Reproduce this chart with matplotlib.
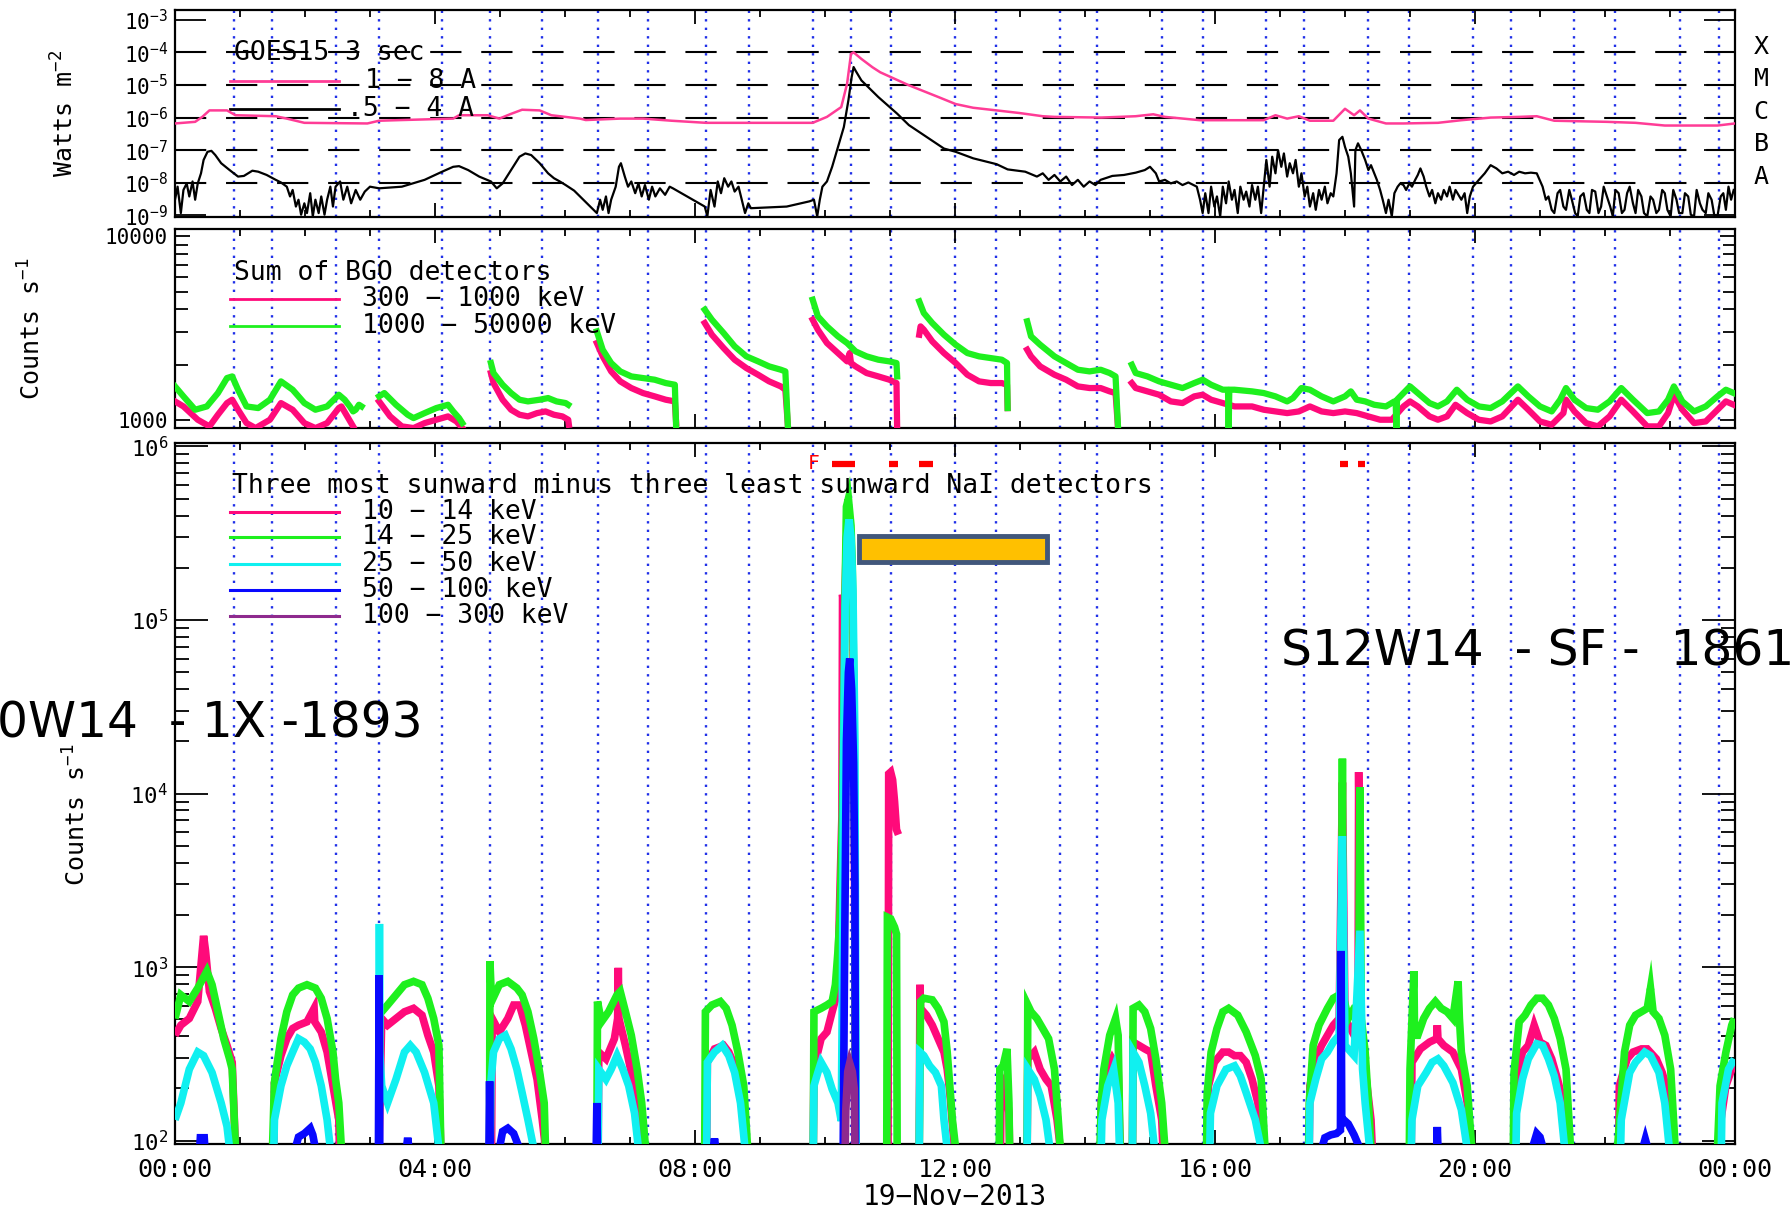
import numpy as np
import matplotlib.pyplot as plt
from matplotlib.patches import Rectangle
from matplotlib.ticker import FixedLocator, FixedFormatter, NullFormatter, NullLocator, LogLocator

nan = np.nan

# ---------------- GOES 15 (time in hours UT) ----------------
goes_long_t = [0.00, 0.31, 0.42, 0.53, 0.80, 0.93, 1.55, 1.72, 1.99, 2.96, 3.14, 3.49, 4.28, 4.37, 4.81,
               4.99, 5.17, 5.34, 5.61, 5.79, 6.23, 6.32, 6.85, 7.20, 7.64, 8.17, 8.79, 9.81, 10.03, 10.25,
               10.34, 10.40, 10.44, 10.56, 10.73, 10.85, 11.29, 11.74, 12.01, 12.28, 12.64, 12.99, 13.35,
               13.53, 14.25, 14.78, 15.05, 15.23, 15.77, 16.75, 16.93, 17.11, 17.29, 17.46, 17.82, 18.00,
               18.14, 18.23, 18.36, 18.63, 18.90, 19.43, 19.79, 20.24, 20.68, 20.95, 21.22, 22.03, 22.47,
               22.92, 23.73, 24.00]
goes_long_flux = [6.6e-7, 7.4e-7, 1.05e-6, 1.66e-6, 1.66e-6, 1.18e-6, 1.1e-6, 9.3e-7, 6.9e-7, 6.6e-7,
                  8.0e-7, 8.4e-7, 9.3e-7, 1.18e-6, 1.18e-6, 9.3e-7, 1.3e-6, 1.74e-6, 1.66e-6, 1.18e-6,
                  9.3e-7, 8.4e-7, 9.3e-7, 9.3e-7, 8.0e-7, 6.9e-7, 6.9e-7, 6.9e-7, 1.05e-6, 2.1e-6,
                  1.1e-5, 9.0e-5, 1.0e-4, 6.3e-5, 3.5e-5, 2.45e-5, 9.8e-6, 4.3e-6, 2.6e-6, 2.0e-6,
                  1.66e-6, 1.38e-6, 1.1e-6, 1.05e-6, 1.0e-6, 1.1e-6, 1.26e-6, 1.05e-6, 8.3e-7, 8.3e-7,
                  1.18e-6, 9.3e-7, 1.1e-6, 8.0e-7, 8.0e-7, 1.86e-6, 1.18e-6, 1.66e-6, 9.3e-7, 6.6e-7,
                  6.6e-7, 6.9e-7, 8.3e-7, 1.0e-6, 1.05e-6, 1.1e-6, 8.0e-7, 7.4e-7, 6.9e-7, 5.7e-7,
                  5.7e-7, 6.6e-7]

# 0.5 - 4 A channel: (hour, log10 flux)
goes_short = [
    (0.00, -8.52), (0.04, -8.12), (0.09, -8.93), (0.13, -8.22), (0.18, -8.02), (0.22, -8.42), (0.27, -7.96),
    (0.31, -8.52), (0.35, -8.02), (0.40, -7.71), (0.44, -7.30), (0.50, -7.05), (0.56, -7.02), (0.62, -7.15),
    (0.71, -7.40), (0.84, -7.61), (0.97, -7.81), (1.06, -7.79), (1.19, -7.63), (1.28, -7.66), (1.41, -7.76),
    (1.55, -7.91), (1.63, -7.99), (1.72, -8.12), (1.77, -8.42), (1.81, -8.22), (1.86, -8.73), (1.90, -8.52),
    (1.94, -8.98), (1.99, -8.63), (2.03, -8.93), (2.08, -8.32), (2.12, -9.03), (2.16, -8.52), (2.21, -8.93),
    (2.25, -8.42), (2.30, -8.98), (2.34, -8.52), (2.39, -8.12), (2.43, -8.73), (2.47, -8.12), (2.54, -7.96),
    (2.59, -8.52), (2.65, -8.12), (2.71, -8.63), (2.78, -8.22), (2.85, -8.52), (2.92, -8.27), (3.00, -8.12),
    (3.14, -8.17), (3.49, -8.12), (3.84, -7.91), (4.11, -7.66), (4.28, -7.51), (4.37, -7.49), (4.51, -7.61),
    (4.68, -7.81), (4.86, -7.96), (4.95, -8.17), (5.04, -8.02), (5.17, -7.61), (5.30, -7.20), (5.39, -7.10),
    (5.48, -7.15), (5.61, -7.40), (5.74, -7.71), (5.83, -7.86), (5.92, -7.96), (6.01, -8.07), (6.14, -8.24),
    (6.49, -8.93), (6.54, -8.52), (6.58, -8.83), (6.63, -8.42), (6.67, -8.93), (6.71, -8.52), (6.78, -8.12),
    (6.83, -7.51), (6.86, -7.40), (6.92, -7.81), (6.97, -8.12), (7.02, -7.96), (7.08, -8.32), (7.13, -8.02),
    (7.18, -8.42), (7.23, -8.07), (7.29, -8.52), (7.34, -8.12), (7.39, -8.42), (7.46, -8.17), (7.54, -8.37),
    (7.61, -8.12), (7.66, -8.17), (8.15, -8.73), (8.19, -9.03), (8.24, -8.22), (8.30, -8.73), (8.35, -7.96),
    (8.40, -8.32), (8.45, -7.86), (8.51, -8.12), (8.56, -7.96), (8.61, -8.27), (8.67, -8.12), (8.72, -8.52),
    (8.77, -8.93), (8.82, -8.63), (8.86, -8.78), (9.41, -8.73), (9.76, -8.57), (9.83, -8.52), (9.88, -9.03),
    (9.92, -8.52), (9.96, -8.12), (10.03, -7.96), (10.11, -7.51), (10.20, -6.90), (10.29, -6.29), (10.36, -5.47),
    (10.41, -4.76), (10.44, -4.45), (10.47, -4.56), (10.56, -4.86), (10.82, -5.37), (11.11, -5.88), (11.29, -6.23),
    (11.56, -6.59), (11.83, -6.95), (12.01, -7.05), (12.28, -7.25), (12.64, -7.43), (12.81, -7.59), (13.08, -7.66),
    (13.26, -7.81), (13.35, -7.71), (13.44, -7.91), (13.53, -7.76), (13.62, -7.96), (13.71, -7.81), (13.80, -8.07),
    (13.89, -7.91), (13.98, -8.12), (14.07, -7.96), (14.16, -8.07), (14.24, -7.91), (14.42, -7.79), (14.60, -7.76),
    (14.78, -7.69), (14.92, -7.61), (15.00, -7.51), (15.09, -7.71), (15.14, -7.96), (15.23, -7.91), (15.32, -8.02),
    (15.41, -7.96), (15.50, -8.07), (15.59, -7.99), (15.72, -8.12), (15.77, -8.52), (15.81, -8.93), (15.85, -8.32),
    (15.90, -8.93), (15.94, -8.12), (15.99, -8.73), (16.03, -8.42), (16.08, -9.03), (16.12, -8.12), (16.17, -8.63),
    (16.21, -7.96), (16.26, -8.52), (16.30, -8.22), (16.35, -8.93), (16.39, -8.12), (16.44, -8.52), (16.48, -8.27),
    (16.53, -8.73), (16.57, -8.07), (16.62, -8.52), (16.66, -8.12), (16.71, -8.93), (16.75, -8.12), (16.79, -7.30),
    (16.84, -8.12), (16.88, -7.20), (16.93, -7.71), (16.97, -7.00), (17.02, -7.51), (17.06, -7.10), (17.11, -7.81),
    (17.15, -7.40), (17.20, -7.71), (17.24, -7.30), (17.29, -8.12), (17.33, -7.71), (17.38, -8.42), (17.42, -8.12),
    (17.46, -8.73), (17.51, -8.32), (17.55, -8.83), (17.60, -8.22), (17.64, -8.52), (17.69, -8.12), (17.73, -8.63),
    (17.78, -8.32), (17.82, -8.42), (17.87, -7.71), (17.91, -6.69), (17.96, -6.59), (18.00, -6.90), (18.05, -7.20),
    (18.09, -7.71), (18.14, -8.73), (18.16, -7.00), (18.20, -6.79), (18.25, -7.00), (18.31, -7.30), (18.36, -7.61),
    (18.40, -7.46), (18.45, -7.71), (18.49, -7.91), (18.54, -8.22), (18.58, -8.52), (18.63, -8.93), (18.67, -8.52),
    (18.72, -9.03), (18.76, -8.32), (18.81, -8.12), (18.85, -8.02), (18.90, -8.07), (18.94, -8.22), (18.99, -8.02),
    (19.03, -8.12), (19.08, -7.91), (19.12, -7.76), (19.16, -7.56), (19.21, -7.81), (19.25, -8.12), (19.30, -8.42),
    (19.34, -8.22), (19.39, -8.63), (19.43, -8.32), (19.48, -8.52), (19.52, -8.22), (19.57, -8.42), (19.61, -8.12),
    (19.66, -8.52), (19.70, -8.22), (19.79, -8.52), (19.84, -8.32), (19.88, -8.93), (19.92, -8.42), (19.97, -8.12),
    (20.06, -7.91), (20.15, -7.71), (20.24, -7.46), (20.33, -7.56), (20.42, -7.71), (20.51, -7.66), (20.60, -7.76),
    (20.68, -7.66), (20.77, -7.71), (20.86, -7.69), (20.95, -7.71), (21.04, -8.12), (21.09, -8.52), (21.13, -8.42),
    (21.18, -8.83), (21.22, -8.93), (21.27, -8.32), (21.31, -8.22), (21.36, -8.73), (21.40, -8.83), (21.45, -8.22),
    (21.49, -8.52), (21.54, -8.93), (21.58, -9.03), (21.62, -8.42), (21.67, -8.32), (21.72, -8.83), (21.76, -8.93),
    (21.80, -8.22), (21.85, -8.27), (21.90, -8.93), (21.94, -8.73), (21.98, -8.12), (22.03, -8.42), (22.08, -8.73),
    (22.12, -9.03), (22.16, -8.22), (22.21, -8.32), (22.26, -8.93), (22.30, -8.83), (22.34, -8.32), (22.38, -8.12),
    (22.43, -8.63), (22.47, -8.93), (22.51, -8.22), (22.56, -8.42), (22.60, -8.93), (22.65, -9.03), (22.70, -8.42),
    (22.74, -8.52), (22.79, -8.93), (22.83, -8.83), (22.88, -8.22), (22.92, -8.32), (22.96, -8.83), (23.01, -9.03),
    (23.05, -8.22), (23.10, -8.52), (23.14, -8.93), (23.19, -8.93), (23.23, -8.32), (23.28, -8.42), (23.32, -8.98),
    (23.37, -9.03), (23.41, -8.22), (23.46, -8.63), (23.50, -8.83), (23.55, -8.93), (23.59, -8.32), (23.64, -8.52),
    (23.68, -8.98), (23.73, -9.03), (23.78, -8.42), (23.82, -8.32), (23.86, -8.83), (23.90, -8.12), (23.94, -8.52),
    (23.98, -8.22)]

goes_classes = ['A', 'B', 'C', 'M', 'X']
goes_levels = [1e-8, 1e-7, 1e-6, 1e-5, 1e-4]

# day/night orbit markers (hours)
orbit_t = [0.90, 1.49, 2.48, 3.14, 4.10, 4.85, 5.65, 6.50, 7.27, 8.17, 8.83, 9.82, 10.40, 11.02, 12.00,
           12.63, 13.61, 14.19, 15.18, 15.82, 16.79, 17.37, 18.36, 18.98, 19.97, 20.55, 21.53, 22.16,
           23.15, 23.75]

# ---------------- BGO sums (segments of (hour, counts/s)) ----------------
bgo_300 = [
    [(0.00, 1259), (0.13, 1182), (0.35, 1000), (0.53, 920), (0.66, 1065), (0.80, 1233), (0.88, 1286), (0.97, 1134),
     (1.10, 959), (1.24, 901), (1.46, 1000), (1.63, 1233), (1.81, 1134), (1.99, 959), (2.16, 901), (2.34, 959),
     (2.52, 1158), (2.56, 1182), (2.65, 1043), (2.74, 920)],
    [(3.14, 1259), (3.31, 1043), (3.49, 920), (3.67, 901), (3.84, 959), (4.11, 1021), (4.20, 1043), (4.33, 979),
     (4.42, 901)],
    [(4.86, 1797), (4.90, 1585), (5.04, 1286), (5.17, 1134), (5.30, 1065), (5.43, 1043), (5.57, 1087), (5.70, 1110),
     (5.83, 1065), (5.96, 1043), (6.05, 1000), (6.06, 939)],
    [(6.49, 2619), (6.58, 2216), (6.71, 1835), (6.85, 1619), (7.02, 1489), (7.20, 1398), (7.38, 1341), (7.55, 1286),
     (7.69, 1259), (7.71, 959)],
    [(8.15, 3368), (8.26, 2908), (8.44, 2460), (8.61, 2125), (8.79, 1913), (8.97, 1760), (9.14, 1619), (9.32, 1520),
     (9.39, 1458), (9.43, 920)],
    [(9.81, 3511), (9.89, 3097), (10.03, 2619), (10.20, 2310), (10.34, 2081), (10.38, 2310), (10.40, 2038),
     (10.47, 1954), (10.64, 1797), (10.82, 1723), (10.99, 1653), (11.10, 1585), (11.11, 890)],
    [(11.45, 2908), (11.47, 3229), (11.52, 3097), (11.65, 2675), (11.83, 2310), (12.01, 2038), (12.19, 1760),
     (12.37, 1619), (12.55, 1585), (12.72, 1585), (12.80, 1552), (12.81, 1158)],
    [(13.11, 2409), (13.17, 2216), (13.31, 1954), (13.53, 1760), (13.71, 1653), (13.89, 1520), (14.07, 1489),
     (14.24, 1489), (14.38, 1428), (14.47, 1398), (14.51, 880)],
    [(14.72, 1585), (14.78, 1489), (14.96, 1428), (15.14, 1369), (15.32, 1259), (15.50, 1233), (15.68, 1341),
     (15.81, 1369), (15.94, 1286), (16.12, 1233), (16.30, 1182), (16.57, 1182), (16.75, 1134), (16.93, 1110),
     (17.11, 1087), (17.29, 1110), (17.46, 1182), (17.64, 1110), (17.82, 1087), (18.00, 1110), (18.18, 1087),
     (18.36, 1043), (18.54, 1000), (18.72, 1000), (18.90, 1182), (19.00, 1259), (19.12, 1182), (19.30, 1043),
     (19.43, 1000), (19.57, 1043), (19.70, 1207), (19.88, 1087), (20.06, 1000), (20.24, 979), (20.42, 1043),
     (20.66, 1286), (20.82, 1134), (21.00, 979), (21.18, 939), (21.36, 1087), (21.40, 1286), (21.53, 1110),
     (21.71, 959), (21.89, 920), (22.07, 1043), (22.25, 1286), (22.43, 1110), (22.65, 920), (22.83, 920),
     (22.97, 1087), (23.06, 1369), (23.19, 1134), (23.37, 959), (23.55, 979), (23.73, 1134), (23.86, 1259),
     (23.98, 1207)]]

bgo_1000 = [
    [(0.00, 1520), (0.13, 1341), (0.31, 1134), (0.49, 1182), (0.66, 1398), (0.80, 1688), (0.88, 1723), (0.97, 1458),
     (1.10, 1182), (1.28, 1158), (1.46, 1286), (1.63, 1619), (1.81, 1458), (1.99, 1233), (2.16, 1134), (2.34, 1182),
     (2.47, 1313), (2.52, 1369), (2.61, 1286), (2.69, 1182), (2.74, 1110), (2.78, 1134), (2.83, 1207), (2.87, 1182)],
    [(3.14, 1341), (3.22, 1398), (3.40, 1207), (3.58, 1065), (3.67, 1021), (3.84, 1087), (4.02, 1158), (4.20, 1207),
     (4.28, 1110), (4.37, 1021), (4.42, 959)],
    [(4.86, 2038), (4.90, 1797), (5.04, 1552), (5.17, 1398), (5.30, 1286), (5.43, 1259), (5.61, 1286), (5.74, 1313),
     (5.87, 1259), (6.01, 1233), (6.05, 1207)],
    [(6.49, 3032), (6.58, 2409), (6.71, 2038), (6.85, 1835), (7.02, 1723), (7.20, 1688), (7.38, 1653), (7.55, 1585),
     (7.69, 1552), (7.71, 901)],
    [(8.15, 3981), (8.26, 3511), (8.44, 2970), (8.61, 2512), (8.79, 2216), (8.97, 2081), (9.14, 1954), (9.32, 1874),
     (9.39, 1835), (9.43, 901)],
    [(9.81, 4513), (9.89, 3661), (10.03, 3229), (10.20, 2848), (10.34, 2619), (10.47, 2359), (10.64, 2216),
     (10.82, 2125), (10.99, 2081), (11.10, 2038), (11.11, 1723)],
    [(11.45, 4421), (11.52, 3818), (11.65, 3368), (11.83, 2908), (12.01, 2565), (12.19, 2310), (12.37, 2216),
     (12.55, 2170), (12.72, 2125), (12.80, 2038), (12.81, 1158)],
    [(13.11, 3439), (13.17, 2848), (13.31, 2565), (13.53, 2216), (13.71, 2038), (13.89, 1874), (14.07, 1835),
     (14.24, 1874), (14.38, 1797), (14.47, 1723), (14.51, 880)],
    [(14.72, 1995), (14.78, 1797), (14.96, 1723), (15.14, 1619), (15.32, 1552), (15.50, 1489), (15.68, 1585),
     (15.81, 1653), (15.94, 1552), (16.12, 1458), (16.20, 1458), (16.21, 880), (16.22, 1458), (16.30, 1458),
     (16.57, 1428), (16.75, 1398), (16.93, 1341), (17.11, 1259), (17.20, 1313), (17.33, 1489), (17.46, 1458),
     (17.64, 1341), (17.82, 1259), (18.00, 1341), (18.09, 1428), (18.18, 1286), (18.31, 1259), (18.45, 1207),
     (18.63, 1182), (18.76, 1259), (18.78, 1259), (18.79, 880), (18.80, 1286), (18.90, 1398), (19.00, 1520),
     (19.12, 1398), (19.30, 1233), (19.43, 1182), (19.57, 1259), (19.72, 1458), (19.88, 1286), (20.06, 1182),
     (20.24, 1158), (20.42, 1259), (20.66, 1520), (20.82, 1341), (21.00, 1182), (21.18, 1110), (21.31, 1286),
     (21.40, 1489), (21.53, 1286), (21.71, 1158), (21.89, 1134), (22.07, 1259), (22.25, 1489), (22.43, 1286),
     (22.65, 1087), (22.83, 1110), (22.97, 1286), (23.06, 1520), (23.19, 1259), (23.37, 1110), (23.55, 1182),
     (23.73, 1341), (23.86, 1458), (23.98, 1398)]]

# ---------------- NaI sunward-minus-anti-sunward (hour, counts/s) ----------------
nai_10 = [
    [(0.00, 405), (0.09, 463), (0.22, 506), (0.35, 634), (0.42, 1240), (0.44, 1515), (0.47, 1240), (0.53, 724),
     (0.62, 579), (0.71, 443), (0.80, 354), (0.88, 283), (0.93, 90)],
    [(1.52, 90), (1.53, 216), (1.63, 309), (1.72, 387), (1.81, 443), (1.90, 463), (2.03, 484), (2.14, 579),
     (2.15, 484), (2.25, 423), (2.34, 324), (2.43, 207), (2.52, 132), (2.53, 90)],
    [(3.14, 90), (3.18, 506), (3.27, 463), (3.40, 506), (3.53, 553), (3.67, 579), (3.80, 529), (3.89, 405),
     (3.98, 324), (4.06, 207), (4.09, 90)],
    [(4.87, 90), (4.88, 506), (4.99, 423), (5.12, 506), (5.21, 605), (5.30, 605), (5.39, 463), (5.48, 324),
     (5.57, 226), (5.65, 132), (5.70, 90)],
    [(6.51, 90), (6.52, 324), (6.63, 296), (6.76, 387), (6.81, 506), (6.82, 991), (6.83, 506), (6.93, 354),
     (7.02, 247), (7.11, 165), (7.18, 90)],
    [(8.18, 90), (8.19, 283), (8.30, 338), (8.44, 354), (8.52, 324), (8.61, 270), (8.70, 189), (8.79, 90)],
    [(9.82, 90), (9.83, 283), (9.89, 324), (9.94, 387), (10.03, 423), (10.11, 553), (10.16, 648), (10.20, 948),
     (10.23, 2770), (10.26, 7400), (10.27, 1.4e5), (10.29, 1.2e5), (10.31, 1.5e5), (10.33, 3.0e5), (10.37, 3.7e5),
     (10.40, 3.0e5), (10.43, 1.0e5), (10.45, 1.0e4), (10.47, 90)],
    [(10.97, 90), (10.98, 1.3e4), (11.01, 1.33e4), (11.04, 1.2e4), (11.07, 9.0e3), (11.10, 6.2e3), (11.13, 5.8e3)],
    [(11.45, 90), (11.46, 792), (11.47, 579), (11.56, 529), (11.65, 463), (11.74, 387), (11.83, 324), (11.88, 258),
     (11.92, 189), (11.99, 90)],
    [(12.70, 90), (12.71, 207), (12.77, 226), (12.83, 144), (12.84, 90)],
    [(13.11, 90), (13.12, 296), (13.22, 324), (13.31, 258), (13.40, 226), (13.48, 207), (13.57, 132), (13.62, 90)],
    [(14.24, 90), (14.25, 173), (14.33, 247), (14.42, 296), (14.51, 258), (14.54, 90)],
    [(14.73, 90), (14.74, 370), (14.83, 354), (14.92, 338), (15.01, 324), (15.09, 207), (15.18, 132), (15.20, 90)],
    [(15.89, 90), (15.90, 207), (15.99, 283), (16.12, 324), (16.21, 324), (16.30, 309), (16.39, 309), (16.48, 283),
     (16.57, 226), (16.66, 165), (16.73, 90)],
    [(17.45, 90), (17.46, 207), (17.55, 296), (17.64, 354), (17.73, 405), (17.82, 463), (17.91, 506), (17.96, 1.16e4),
     (18.00, 506), (18.14, 405), (18.20, 405), (18.21, 1.33e4), (18.24, 405), (18.31, 258), (18.40, 132), (18.42, 90)],
    [(19.02, 90), (19.03, 283), (19.16, 338), (19.30, 370), (19.41, 387), (19.42, 463), (19.43, 387), (19.52, 354),
     (19.66, 324), (19.79, 258), (19.88, 165), (19.90, 90)],
    [(20.61, 90), (20.62, 207), (20.73, 324), (20.82, 354), (20.91, 463), (21.00, 370), (21.09, 354), (21.18, 296),
     (21.27, 226), (21.36, 165), (21.43, 90)],
    [(22.21, 90), (22.22, 207), (22.34, 296), (22.43, 324), (22.56, 338), (22.65, 338), (22.79, 296), (22.88, 247),
     (22.97, 189), (23.06, 90)],
    [(23.76, 90), (23.77, 121), (23.86, 207), (23.95, 258), (23.99, 283)]]

nai_14 = [
    [(0.00, 506), (0.09, 692), (0.22, 634), (0.35, 757), (0.49, 948), (0.57, 792), (0.66, 553), (0.75, 387),
     (0.84, 296), (0.88, 258), (0.93, 90)],
    [(1.50, 90), (1.53, 216), (1.55, 247), (1.63, 387), (1.72, 553), (1.81, 692), (1.90, 757), (2.03, 792),
     (2.16, 757), (2.25, 662), (2.34, 506), (2.43, 324), (2.47, 226), (2.52, 165), (2.56, 90)],
    [(3.14, 90), (3.15, 553), (3.18, 553), (3.27, 605), (3.40, 692), (3.53, 792), (3.67, 828), (3.80, 792),
     (3.89, 662), (3.98, 506), (4.06, 354), (4.09, 90)],
    [(4.84, 90), (4.845, 1083), (4.87, 634), (4.99, 792), (5.12, 828), (5.26, 757), (5.34, 692), (5.43, 553),
     (5.52, 387), (5.61, 247), (5.68, 165), (5.70, 90)],
    [(6.49, 90), (6.50, 634), (6.56, 484), (6.67, 553), (6.80, 692), (6.85, 724), (6.93, 553), (7.02, 405),
     (7.11, 258), (7.18, 165), (7.24, 90)],
    [(8.15, 90), (8.16, 553), (8.26, 605), (8.39, 634), (8.48, 579), (8.57, 463), (8.66, 324), (8.75, 207), (8.81, 90)],
    [(9.82, 90), (9.83, 553), (9.94, 579), (10.03, 605), (10.11, 634), (10.16, 792), (10.20, 1240), (10.23, 1940),
     (10.27, 8000), (10.29, 3.0e4), (10.31, 1.5e5), (10.33, 4.5e5), (10.36, 5.0e5), (10.38, 4.2e5), (10.40, 3.5e5),
     (10.42, 2.0e5), (10.44, 5.0e4), (10.46, 3000), (10.47, 90)],
    [(10.95, 90), (10.96, 1940), (11.01, 1900), (11.07, 1700), (11.10, 1550), (11.11, 90)],
    [(11.45, 90), (11.47, 634), (11.52, 662), (11.65, 648), (11.74, 579), (11.83, 484), (11.88, 324), (11.92, 207),
     (11.96, 132), (12.01, 90)],
    [(12.68, 90), (12.69, 258), (12.74, 270), (12.80, 338), (12.83, 165), (12.84, 90)],
    [(13.11, 90), (13.12, 605), (13.17, 553), (13.26, 506), (13.35, 443), (13.44, 387), (13.53, 258), (13.57, 165),
     (13.62, 90)],
    [(14.23, 90), (14.25, 165), (14.29, 258), (14.38, 405), (14.47, 506), (14.51, 405), (14.54, 90)],
    [(14.73, 90), (14.74, 579), (14.83, 605), (14.92, 553), (15.01, 443), (15.09, 296), (15.18, 165), (15.23, 90)],
    [(15.87, 90), (15.88, 189), (15.94, 324), (16.03, 443), (16.12, 553), (16.21, 579), (16.35, 529), (16.48, 423),
     (16.62, 309), (16.71, 226), (16.77, 90)],
    [(17.44, 90), (17.45, 165), (17.51, 354), (17.60, 463), (17.73, 579), (17.82, 662), (17.91, 692), (17.95, 692),
     (17.96, 1.59e4), (17.97, 692), (18.05, 506), (18.14, 579), (18.21, 579), (18.23, 1.09e4), (18.25, 506),
     (18.31, 324), (18.36, 165), (18.40, 90)],
    [(18.99, 90), (19.00, 258), (19.06, 948), (19.07, 405), (19.12, 405), (19.21, 506), (19.30, 579), (19.39, 634),
     (19.48, 579), (19.57, 553), (19.66, 506), (19.74, 828), (19.76, 506), (19.79, 324), (19.88, 207), (19.95, 90)],
    [(20.59, 90), (20.60, 247), (20.68, 484), (20.77, 529), (20.86, 605), (20.95, 662), (21.04, 662), (21.13, 605),
     (21.22, 506), (21.31, 387), (21.40, 258), (21.47, 90)],
    [(22.19, 90), (22.21, 110), (22.30, 324), (22.38, 463), (22.47, 529), (22.56, 553), (22.65, 579), (22.70, 757),
     (22.74, 553), (22.83, 506), (22.92, 405), (23.01, 258), (23.08, 90)],
    [(23.73, 90), (23.77, 207), (23.86, 324), (23.95, 463), (23.99, 506)]]

nai_25 = [
    [(0.00, 132), (0.09, 165), (0.22, 258), (0.35, 324), (0.44, 309), (0.57, 247), (0.71, 165), (0.80, 121), (0.84, 90)],
    [(1.52, 90), (1.53, 132), (1.63, 207), (1.72, 270), (1.81, 324), (1.90, 387), (1.99, 370), (2.08, 338),
     (2.16, 283), (2.25, 207), (2.34, 132), (2.39, 90)],
    [(3.14, 90), (3.145, 1774), (3.15, 324), (3.18, 207), (3.27, 165), (3.40, 226), (3.53, 324), (3.62, 354),
     (3.71, 324), (3.84, 247), (3.98, 165), (4.06, 90)],
    [(4.85, 90), (4.86, 216), (4.90, 324), (4.99, 387), (5.08, 405), (5.17, 338), (5.26, 258), (5.34, 189),
     (5.43, 132), (5.52, 90)],
    [(6.51, 90), (6.52, 258), (6.63, 226), (6.71, 258), (6.80, 309), (6.89, 258), (6.98, 207), (7.07, 144), (7.13, 90)],
    [(8.18, 90), (8.19, 283), (8.30, 324), (8.42, 354), (8.52, 309), (8.61, 247), (8.70, 165), (8.77, 90)],
    [(9.82, 90), (9.83, 207), (9.89, 247), (9.94, 283), (10.03, 247), (10.11, 198), (10.20, 165), (10.25, 130),
     (10.27, 1000), (10.29, 2.0e4), (10.31, 1.2e5), (10.34, 3.0e5), (10.37, 3.8e5), (10.40, 3.0e5), (10.43, 1.5e5),
     (10.46, 2.0e4), (10.48, 90)],
    [(11.45, 90), (11.46, 324), (11.52, 309), (11.61, 270), (11.70, 247), (11.79, 207), (11.83, 132), (11.88, 90)],
    [(13.11, 90), (13.12, 258), (13.22, 226), (13.31, 181), (13.40, 132), (13.46, 90)],
    [(14.25, 90), (14.26, 132), (14.35, 207), (14.44, 258), (14.51, 165), (14.53, 90)],
    [(14.73, 90), (14.74, 324), (14.83, 283), (14.92, 207), (15.01, 144), (15.07, 90)],
    [(15.92, 90), (15.93, 144), (16.03, 207), (16.17, 258), (16.30, 270), (16.39, 236), (16.48, 189), (16.62, 132),
     (16.71, 90)],
    [(17.45, 90), (17.46, 165), (17.55, 226), (17.64, 296), (17.73, 324), (17.82, 370), (17.91, 405), (17.96, 5690),
     (18.00, 354), (18.14, 309), (18.23, 1622), (18.27, 258), (18.31, 165), (18.38, 90)],
    [(19.02, 90), (19.03, 132), (19.12, 207), (19.25, 247), (19.34, 283), (19.43, 296), (19.52, 270), (19.66, 216),
     (19.79, 151), (19.88, 90)],
    [(20.63, 90), (20.64, 144), (20.73, 226), (20.82, 296), (20.95, 362), (21.04, 354), (21.13, 296), (21.22, 236),
     (21.31, 165), (21.38, 90)],
    [(22.24, 90), (22.25, 132), (22.38, 247), (22.47, 283), (22.61, 324), (22.70, 309), (22.83, 247), (22.92, 165),
     (22.99, 90)],
    [(23.79, 90), (23.80, 165), (23.90, 258), (23.99, 296)]]

nai_50 = [
    [(0.38, 90), (0.39, 104), (0.45, 104), (0.46, 90)],
    [(1.85, 90), (1.90, 105), (1.99, 110), (2.08, 118), (2.12, 108), (2.16, 90)],
    [(3.13, 90), (3.14, 900), (3.15, 90)],
    [(3.56, 90), (3.58, 104), (3.60, 90)],
    [(4.83, 90), (4.84, 220), (4.85, 90)],
    [(4.99, 90), (5.04, 113), (5.12, 118), (5.21, 110), (5.30, 90)],
    [(6.48, 90), (6.49, 165), (6.50, 90)],
    [(8.28, 90), (8.30, 103), (8.32, 90)],
    [(10.28, 90), (10.30, 1000), (10.33, 2.0e4), (10.36, 5.0e4), (10.38, 6.0e4), (10.41, 4.0e4), (10.44, 1.5e4),
     (10.46, 3000), (10.47, 90)],
    [(17.64, 90), (17.69, 104), (17.78, 108), (17.87, 110), (17.93, 115), (17.94, 1240), (17.95, 125), (18.00, 130),
     (18.05, 125), (18.14, 108), (18.23, 90)],
    [(19.41, 90), (19.42, 120), (19.43, 90)],
    [(20.88, 90), (20.95, 110), (21.00, 105), (21.05, 90)],
    [(22.58, 90), (22.62, 102), (22.66, 90)]]

nai_100 = [
    [(10.31, 90), (10.32, 150), (10.35, 250), (10.38, 280), (10.42, 250), (10.45, 200), (10.46, 90)]]

# data-quality flags shown along the top of the NaI panel (hours)
flag_start = [10.11, 10.98, 11.45, 17.93, 18.20]
flag_end = [10.46, 11.12, 11.66, 18.04, 18.31]


def join(segs):
    t, c = [], []
    for seg in segs:
        for a, b in seg:
            t.append(a)
            c.append(b)
        t.append(nan)
        c.append(nan)
    return np.array(t), np.array(c)


PINK = '#FF0A7A'
GPINK = '#FF3C96'
GREEN = '#1EF01E'
CYAN = '#10F0F0'
BLUE = '#0808FF'
PURPLE = '#8E2A8E'

plt.rcParams['font.family'] = ['DejaVu Sans Mono']
plt.rcParams['mathtext.default'] = 'regular'

fig = plt.figure(figsize=(17.92, 12.11), dpi=100)
W, H = 1792.0, 1211.0
FS = 19


def box(top, bottom):
    return [175 / W, 1 - bottom / H, 1560 / W, (bottom - top) / H]


def style(ax, lo, hi):
    ax.set_xlim(0, 24)
    ax.set_yscale('log')
    ax.set_ylim(lo, hi)
    ax.xaxis.set_major_locator(FixedLocator(range(0, 25, 4)))
    ax.xaxis.set_minor_locator(FixedLocator(range(0, 25)))
    ax.tick_params(which='both', direction='in', top=True, right=True, width=1.3, labelsize=15, pad=5)
    ax.tick_params(axis='x', which='major', length=10)
    ax.tick_params(axis='x', which='minor', length=5)
    for s in ax.spines.values():
        s.set_linewidth(1.6)
    for t in orbit_t:
        ax.axvline(t, color='#2030E8', ls=(0, (1, 2.6)), lw=1.7, zorder=0)


ax1 = fig.add_axes(box(10, 217))
ax2 = fig.add_axes(box(229, 428))
ax3 = fig.add_axes(box(443, 1144))

# ---------- GOES panel ----------
style(ax1, 10 ** -9.05, 10 ** -2.70)
ax1.yaxis.set_major_locator(FixedLocator([1e-9, 1e-8, 1e-7, 1e-6, 1e-5, 1e-4, 1e-3]))
ax1.yaxis.set_minor_locator(NullLocator())
ax1.tick_params(axis='y', which='major', length=22)
ax1.tick_params(axis='x', labelbottom=False)
for lev in goes_levels:
    ax1.axhline(lev, color='black', ls=(0, (15, 9.5)), lw=1.5, zorder=1)
for cl, lev in zip(goes_classes, goes_levels):
    ax1.text(1.012, lev * 1.5, cl, transform=ax1.get_yaxis_transform(), fontsize=18, va='center', ha='left')
gs_t = [p[0] for p in goes_short]
gs_f = [10 ** p[1] for p in goes_short]
ax1.plot(goes_long_t, goes_long_flux, color=GPINK, lw=1.8, zorder=3)
ax1.plot(gs_t, gs_f, color='black', lw=1.6, zorder=3)
ax1.set_ylabel('Watts m$^{-2}$', fontsize=18)
ax1.yaxis.set_label_coords(-0.062, 0.5)
ax1.text(0.038, 0.794, 'GOES15 3 sec', transform=ax1.transAxes, fontsize=FS, va='center')
ax1.plot([0.0353, 0.1051], [0.657, 0.657], transform=ax1.transAxes, color=GPINK, lw=2)
ax1.text(0.122, 0.657, '1 − 8 A', transform=ax1.transAxes, fontsize=FS, va='center')
ax1.plot([0.0353, 0.1051], [0.524, 0.524], transform=ax1.transAxes, color='black', lw=2)
ax1.text(0.11, 0.524, '.5 − 4 A', transform=ax1.transAxes, fontsize=FS, va='center')

# ---------- BGO panel ----------
style(ax2, 10 ** 2.955, 10 ** 4.040)
ax2.yaxis.set_major_locator(FixedLocator([1000, 10000]))
ax2.yaxis.set_major_formatter(FixedFormatter(['1000', '10000']))
ax2.yaxis.set_minor_locator(FixedLocator([2000, 3000, 4000, 5000, 6000, 7000, 8000, 9000]))
ax2.yaxis.set_minor_formatter(NullFormatter())
ax2.tick_params(axis='y', which='major', length=11)
ax2.tick_params(axis='y', which='minor', length=9)
ax2.tick_params(axis='x', labelbottom=False)
t, c = join(bgo_300)
ax2.plot(t, c, color=PINK, lw=4.5, zorder=3)
t, c = join(bgo_1000)
ax2.plot(t, c, color=GREEN, lw=4.5, zorder=3)
ax2.set_ylabel('Counts s$^{-1}$', fontsize=18)
ax2.yaxis.set_label_coords(-0.083, 0.5)
ax2.text(0.038, 0.779, 'Sum of BGO detectors', transform=ax2.transAxes, fontsize=FS, va='center')
ax2.plot([0.0353, 0.1051], [0.646, 0.646], transform=ax2.transAxes, color=PINK, lw=2)
ax2.text(0.12, 0.646, '300 − 1000 keV', transform=ax2.transAxes, fontsize=FS, va='center')
ax2.plot([0.0353, 0.1051], [0.514, 0.514], transform=ax2.transAxes, color=GREEN, lw=2)
ax2.text(0.12, 0.514, '1000 − 50000 keV', transform=ax2.transAxes, fontsize=FS, va='center')

# ---------- NaI panel ----------
style(ax3, 10 ** 1.981, 10 ** 6.02)
ax3.yaxis.set_major_locator(FixedLocator([1e2, 1e3, 1e4, 1e5, 1e6]))
ax3.yaxis.set_minor_locator(LogLocator(base=10, subs=np.arange(2, 10)))
ax3.yaxis.set_minor_formatter(NullFormatter())
ax3.tick_params(axis='y', which='major', length=24, labelsize=16)
ax3.tick_params(axis='y', which='minor', length=10)
ax3.tick_params(axis='x', which='major', pad=10, labelsize=18)
ax3.xaxis.set_major_formatter(FixedFormatter(['00:00', '04:00', '08:00', '12:00', '16:00', '20:00', '00:00']))
for segs, col in [(nai_10, PINK), (nai_14, GREEN), (nai_25, CYAN), (nai_50, BLUE), (nai_100, PURPLE)]:
    t, c = join(segs)
    ax3.plot(t, c, color=col, lw=5.5, zorder=3, solid_joinstyle='miter', solid_capstyle='butt')
ax3.set_ylabel('Counts s$^{-1}$', fontsize=18)
ax3.yaxis.set_label_coords(-0.054, 0.47)

ax3.text(0.0366, 0.939, 'Three most sunward minus three least sunward NaI detectors',
         transform=ax3.transAxes, fontsize=FS, va='center')
labels = ['10 − 14 keV', '14 − 25 keV', '25 − 50 keV', '50 − 100 keV', '100 − 300 keV']
cols = [PINK, GREEN, CYAN, BLUE, PURPLE]
ys = [0.902, 0.866, 0.828, 0.791, 0.753]
for lab, col, y in zip(labels, cols, ys):
    ax3.plot([0.0353, 0.1051], [y, y], transform=ax3.transAxes, color=col, lw=2.2)
    ax3.text(0.12, y, lab, transform=ax3.transAxes, fontsize=FS, va='center')

flag_y = 10 ** 5.90
ax3.hlines([flag_y] * len(flag_start), flag_start, flag_end, color='red', lw=4.5, zorder=4)
ax3.text(9.74, flag_y, 'F', color='red', fontsize=14, va='center', ha='left', zorder=4)

ax3.add_patch(Rectangle((10.52, 10 ** 5.335), 2.90, 10 ** 5.482 - 10 ** 5.335,
                        facecolor='#FFC000', edgecolor='#41577B', lw=3.5, zorder=6))

fig.text(955 / W, 1 - 1197 / H, '19−Nov−2013', fontsize=20, ha='center', va='center')

fig.text(1281 / W, 1 - 666 / H, 'S12W14  - SF -  1861', fontsize=35, ha='left', va='baseline',
         family='DejaVu Sans', zorder=10)
fig.text(423 / W, 1 - 738 / H, '0W14  - 1X -1893', fontsize=35, ha='right', va='baseline',
         family='DejaVu Sans', zorder=10)

fig.savefig('out.png', dpi=100)
